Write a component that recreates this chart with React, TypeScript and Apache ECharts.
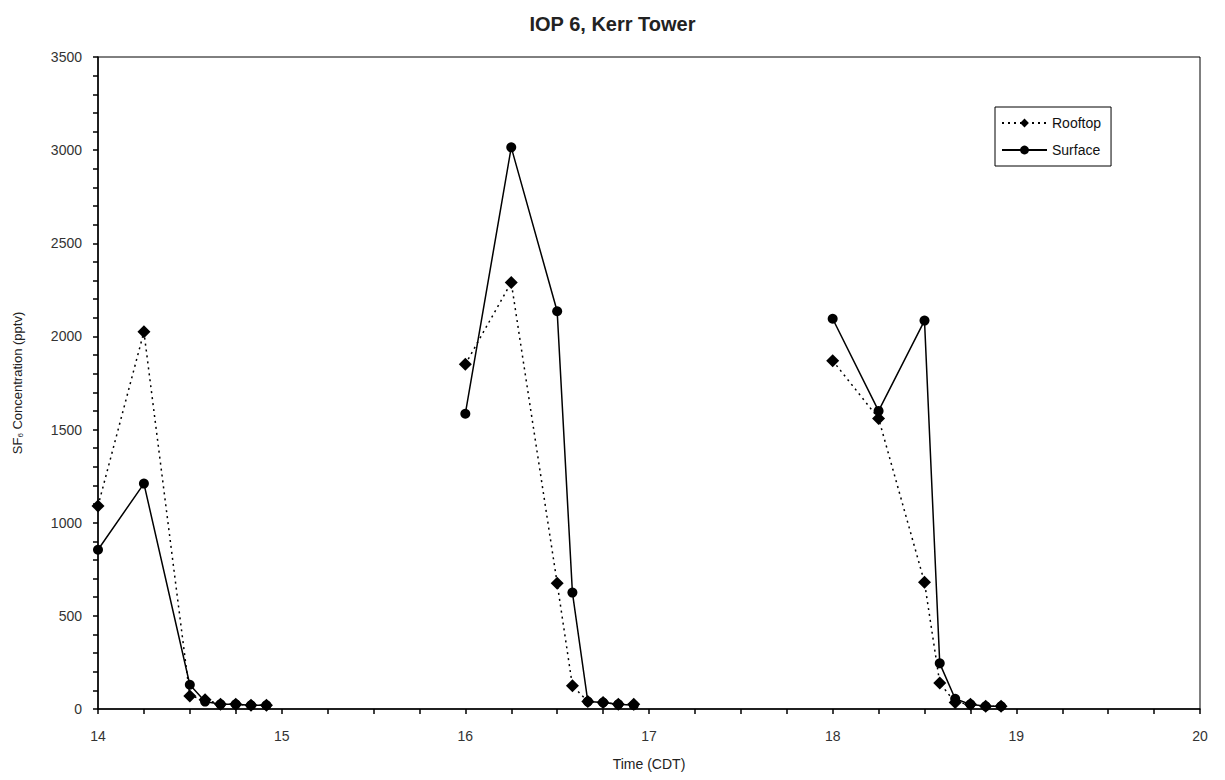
import React, { useEffect, useRef } from "react";
import * as echarts from "echarts";

// Sample times (hours CDT) for each of the three release periods
const times1 = [14.0, 14.25, 14.5, 14.583, 14.667, 14.75, 14.833, 14.917];
const times2 = [16.0, 16.25, 16.5, 16.583, 16.667, 16.75, 16.833, 16.917];
const times3 = [18.0, 18.25, 18.5, 18.583, 18.667, 18.75, 18.833, 18.917];

// SF6 concentration (pptv)
const rooftop1 = [1090, 2025, 70, 50, 25, 25, 20, 20];
const rooftop2 = [1850, 2290, 675, 125, 40, 35, 25, 25];
const rooftop3 = [1870, 1560, 680, 140, 35, 25, 15, 15];

const surface1 = [855, 1210, 130, 40, 25, 25, 20, 20];
const surface2 = [1585, 3015, 2135, 625, 40, 35, 25, 20];
const surface3 = [2095, 1600, 2085, 245, 55, 25, 15, 15];

const xTicks = { min: 14, max: 20, interval: 1 };
const yTicks = { min: 0, max: 3500, interval: 500 };

const pairs = (t: number[], v: number[]) => t.map((x, i) => [x, v[i]]);

const FONT = "Liberation Sans, Arial, sans-serif";

export default function App() {
  const ref = useRef<HTMLDivElement>(null);
  useEffect(() => {
    if (!ref.current) return;
    const chart = echarts.init(ref.current, undefined, { renderer: "svg" });
    const rooftopStyle = {
      type: "line" as const,
      name: "Rooftop",
      symbol: "diamond",
      symbolSize: 13,
      itemStyle: { color: "#000" },
      lineStyle: { color: "#000", width: 1.5, type: [2, 4] as any },
      z: 3,
    };
    const surfaceStyle = {
      type: "line" as const,
      name: "Surface",
      symbol: "circle",
      symbolSize: 10,
      itemStyle: { color: "#000" },
      lineStyle: { color: "#000", width: 1.5, type: "solid" as const },
      z: 4,
    };
    const rGroups = [pairs(times1, rooftop1), pairs(times2, rooftop2), pairs(times3, rooftop3)];
    const sGroups = [pairs(times1, surface1), pairs(times2, surface2), pairs(times3, surface3)];
    const series: any[] = [];
    rGroups.forEach((d) => series.push({ ...rooftopStyle, data: d }));
    sGroups.forEach((d) => series.push({ ...surfaceStyle, data: d }));

    chart.setOption({
      animation: false,
      backgroundColor: "#fff",
      textStyle: { fontFamily: FONT },
      title: {
        text: "IOP 6, Kerr Tower",
        left: "center",
        top: 9,
        textStyle: { fontSize: 20, fontWeight: "bold", color: "#222", fontFamily: FONT },
      },
      legend: {
        data: ["Rooftop", "Surface"],
        orient: "vertical",
        left: 995,
        top: 107,
        itemWidth: 45,
        itemHeight: 11,
        itemGap: 13,
        padding: [9, 10, 9, 6],
        borderColor: "#000",
        borderWidth: 1,
        borderRadius: 0,
        backgroundColor: "#fff",
        textStyle: { fontSize: 14, color: "#111", fontFamily: FONT },
      },
      grid: {
        left: 98,
        right: 25,
        top: 57,
        bottom: 71,
        show: true,
        borderColor: "#000",
        borderWidth: 1,
        containLabel: false,
      },
      xAxis: {
        type: "value",
        min: xTicks.min,
        max: xTicks.max,
        interval: xTicks.interval,
        name: "Time (CDT)",
        nameLocation: "middle",
        nameGap: 48,
        nameTextStyle: { fontSize: 14, color: "#222", fontFamily: FONT },
        axisLine: { show: true, lineStyle: { color: "#000", width: 1.5 } },
        axisTick: { show: true, inside: false, length: 5, lineStyle: { color: "#000", width: 1.5 } },
        minorTick: { show: true, splitNumber: 4, length: 5, lineStyle: { color: "#000", width: 1.5 } },
        axisLabel: { fontSize: 14, color: "#333", margin: 20, fontFamily: FONT, formatter: (v: number) => String(v) },
        splitLine: { show: false },
      },
      yAxis: {
        type: "value",
        min: yTicks.min,
        max: yTicks.max,
        interval: yTicks.interval,
        name: "SF{sub|6} Concentration (pptv)",
        nameLocation: "middle",
        nameRotate: 90,
        nameGap: 74,
        nameTextStyle: {
          fontSize: 13,
          color: "#222",
          fontFamily: FONT,
          rich: { sub: { fontSize: 8, verticalAlign: "bottom", padding: [6, 0, 0, 0], fontFamily: FONT, color: "#222" } },
        },
        axisLine: { show: true, lineStyle: { color: "#000", width: 1.5 } },
        axisTick: { show: true, inside: false, length: 5, lineStyle: { color: "#000", width: 1.5 } },
        minorTick: { show: true, splitNumber: 5, length: 5, lineStyle: { color: "#000", width: 1.5 } },
        axisLabel: { fontSize: 14, color: "#333", margin: 16, fontFamily: FONT, formatter: (v: number) => String(v) },
        splitLine: { show: false },
      },
      series,
    });
    return () => chart.dispose();
  }, []);
  return (
    <div
      ref={ref}
      style={{ position: "fixed", left: 0, top: 0, width: 1225, height: 780, background: "#fff" }}
    />
  );
}
